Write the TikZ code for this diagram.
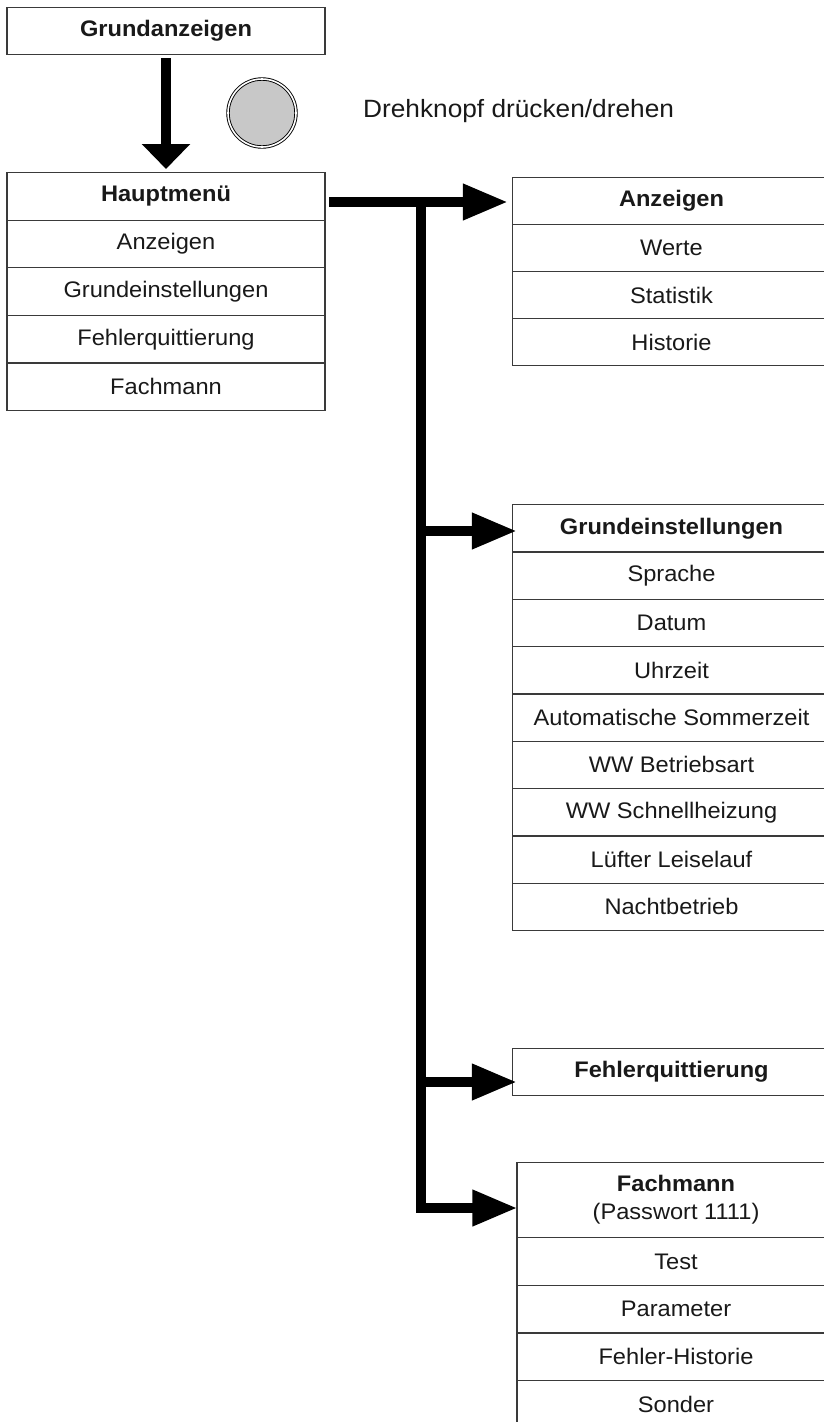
\documentclass[tikz,border=0pt]{standalone}
\usepackage{fontspec}
\setmainfont{Liberation Sans}[FakeStretch=1.05]
\usetikzlibrary{arrows.meta}
\definecolor{rule}{HTML}{3A3A3A}
\definecolor{knobgray}{HTML}{C8C8C8}
\begin{document}
\begin{tikzpicture}[x=1pt,y=-1pt,
  cell/.style={draw=rule, line width=1.2pt, fill=white, minimum width=318pt,
    minimum height=#1, inner sep=0pt, anchor=north,
    font=\fontsize{22.5}{28}\selectfont, text=black!90},
  cell/.default=47pt,
  hdr/.style={font=\fontsize{22.5}{28}\selectfont\bfseries},
  conn/.style={line width=10pt, line join=miter, -{Triangle[length=45pt,width=34pt]}},
  downconn/.style={line width=10pt, -{Triangle[length=25pt,width=47pt]}},
  knob/.style={circle, minimum size=68pt, inner sep=0pt, fill=knobgray,
    draw=black, line width=0.9pt, double=white, double distance=1.6pt}]
\useasboundingbox (0,0) rectangle (823,1422);

% left column
\node[cell, hdr] (gz) at (166,7) {Grundanzeigen};
\node[cell=47.6pt, hdr] (hm0) at (166,172) {Hauptmenü};
\foreach \t [count=\i] in {Anzeigen, Grundeinstellungen, Fehlerquittierung, Fachmann}
  \node[cell=47.6pt] (hm\i) at (166,{172+47.6*\i}) {\t};

% knob
\node[knob] (knob) at (262,113) {};
\node[anchor=base west, inner sep=0pt, font=\fontsize{25}{30}\selectfont, text=black!90]
  (knoblabel) at (363,117) {Drehknopf drücken/drehen};

% Anzeigen
\node[cell, hdr] (an0) at (671.5,177) {Anzeigen};
\foreach \t [count=\i] in {Werte, Statistik, Historie}
  \node[cell] (an\i) at (671.5,{177+47*\i}) {\t};

% Grundeinstellungen
\node[cell=47.33pt, hdr] (ge0) at (671.5,504) {Grundeinstellungen};
\foreach \t [count=\i] in {Sprache, Datum, Uhrzeit, Automatische Sommerzeit,
    WW Betriebsart, WW Schnellheizung, Lüfter Leiselauf, Nachtbetrieb}
  \node[cell=47.33pt] (ge\i) at (671.5,{504+47.33*\i}) {\t};

% Fehlerquittierung
\node[cell, hdr] (fq0) at (671.5,1048) {Fehlerquittierung};

% Fachmann
\node[cell=75pt, align=center] (fm0) at (676,1162)
  {\textbf{Fachmann}\\(Passwort 1111)};
\foreach \t [count=\i] in {Test, Parameter, Fehler-Historie, Sonder}
  \node[cell=47.7pt] (fm\i) at (676,{1237+47.7*(\i-1)}) {\t};

% connectors
\draw[downconn, shorten <=3pt, shorten >=3pt] (gz.south) -- (hm0.north);

\coordinate (start) at (329,202);
\coordinate (bustop) at (421,202);
\coordinate (b2) at (421,531);
\coordinate (b3) at (421,1082);
\coordinate (b4) at (421,1208);

\draw[conn, shorten >=4pt] (start) -- (start -| an0.west);
\draw[conn, shorten >=-1pt] (bustop) -- (b4) -- (b4 -| fm0.west);
\draw[conn, shorten >=-5pt] (b2) -- (b2 -| ge0.west);
\draw[conn, shorten >=-5pt] (b3) -- (b3 -| fq0.west);
\end{tikzpicture}
\end{document}
